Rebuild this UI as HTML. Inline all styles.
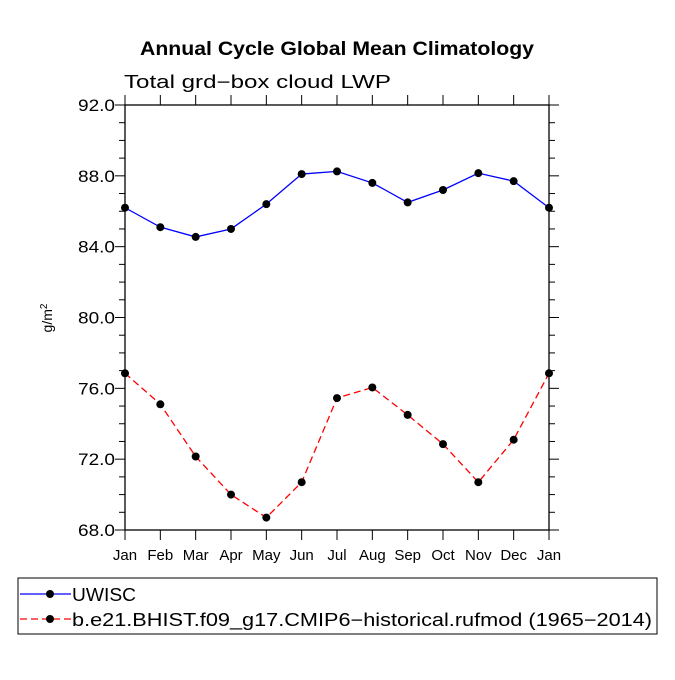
<!DOCTYPE html>
<html><head><meta charset="utf-8"><style>
body{margin:0;background:#fff;}
svg text{font-family:"Liberation Sans",sans-serif;}
</style></head><body>
<svg width="675" height="675" viewBox="0 0 675 675">
<text x="337" y="55" text-anchor="middle" font-size="19" font-weight="bold" textLength="394" lengthAdjust="spacingAndGlyphs">Annual Cycle Global Mean Climatology</text>
<text x="124" y="88" font-size="18" textLength="267" lengthAdjust="spacingAndGlyphs">Total grd−box cloud LWP</text>
<text transform="translate(52,318) rotate(-90)" text-anchor="middle" font-size="14">g/m<tspan dy="-5" font-size="10">2</tspan></text>
<g id="axes"></g>
<g id="series"></g>
<rect x="18" y="578" width="639" height="56" fill="none" stroke="#000" stroke-width="1"/>
<g>
<line x1="20" y1="594" x2="71" y2="594" stroke="#0000ff" stroke-width="1.3"/>
<circle cx="50" cy="594" r="4" fill="#000"/>
<text x="72" y="601" font-size="18" textLength="64" lengthAdjust="spacingAndGlyphs">UWISC</text>
</g>
<g>
<line x1="20" y1="619" x2="71" y2="619" stroke="#ff0000" stroke-width="1.3" stroke-dasharray="7,4"/>
<circle cx="50" cy="619" r="4" fill="#000"/>
<text x="72" y="626" font-size="18" textLength="580" lengthAdjust="spacingAndGlyphs">b.e21.BHIST.f09_g17.CMIP6−historical.rufmod (1965−2014)</text>
</g>
</svg>
<script>
const months=["Jan","Feb","Mar","Apr","May","Jun","Jul","Aug","Sep","Oct","Nov","Dec","Jan"];
const yTicks=[68,72,76,80,84,88,92];
const yTickLabels=["68.0","72.0","76.0","80.0","84.0","88.0","92.0"];
const uwisc=[86.2,85.1,84.55,85.0,86.4,88.1,88.25,87.6,86.5,87.2,88.15,87.7,86.2];
const model=[76.85,75.1,72.15,70.0,68.7,70.7,75.45,76.05,74.5,72.85,70.7,73.1,76.85];
const L=125,R=549,T=105,B=530,ymin=68,ymax=92;
const xs=i=>L+(R-L)*i/12;
const ys=v=>B-(B-T)*(v-ymin)/(ymax-ymin);
const NS="http://www.w3.org/2000/svg";
function mk(tag,attrs,parent){const e=document.createElementNS(NS,tag);for(const k in attrs)e.setAttribute(k,attrs[k]);parent.appendChild(e);return e;}
const ax=document.getElementById('axes');
const frame=mk('rect',{x:L,y:T,width:R-L,height:B-T,fill:'none',stroke:'#000','stroke-width':1.3},ax);


for(let v=ymin;v<=ymax;v++){
  const major=(v-ymin)%4===0;const len=major?10:6;const y=ys(v);
  mk('line',{x1:L-len,y1:y,x2:L,y2:y,stroke:'#000','stroke-width':1},ax);
  mk('line',{x1:R,y1:y,x2:R+len,y2:y,stroke:'#000','stroke-width':1},ax);
}
yTicks.forEach((v,i)=>{
  const t=mk('text',{x:L-9,y:ys(v)+6,'text-anchor':'end','font-size':17,textLength:37,lengthAdjust:'spacingAndGlyphs'},ax);
  t.textContent=yTickLabels[i];
  t.setAttribute('x',L-47);
  t.setAttribute('text-anchor','start');
  
  
});
months.forEach((m,i)=>{
  const x=xs(i);
  mk('line',{x1:x,y1:B,x2:x,y2:B+10,stroke:'#000','stroke-width':1},ax);
  mk('line',{x1:x,y1:T-10,x2:x,y2:T,stroke:'#000','stroke-width':1},ax);
  const t=mk('text',{x:x,y:B+30,'text-anchor':'middle','font-size':15},ax);
  t.textContent=m;
  
  
});
const sg=document.getElementById('series');
function drawSeries(vals,color,dash,name){
  const g=mk('g',{},sg);
  
  
  const pts=vals.map((v,i)=>xs(i)+','+ys(v)).join(' ');
  const a={points:pts,fill:'none',stroke:color,'stroke-width':1.3};
  if(dash)a['stroke-dasharray']=dash;
  mk('polyline',a,g);
  vals.forEach((v,i)=>{
    const c=mk('circle',{cx:xs(i),cy:ys(v),r:4,fill:'#000'},g);
    
    
  });
}
drawSeries(uwisc,'#0000ff',null,'series-uwisc');
drawSeries(model,'#ff0000','7,4','series-model');
</script>
</body></html>
